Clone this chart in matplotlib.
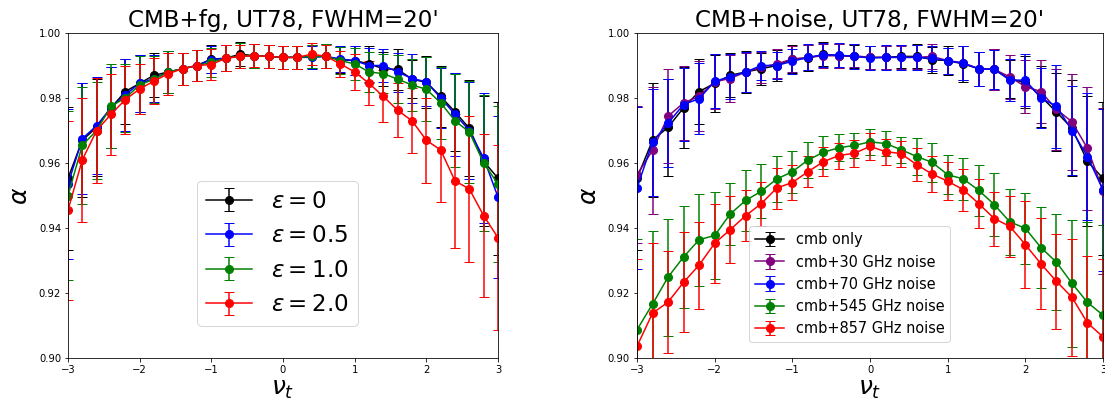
import matplotlib
matplotlib.use('Agg')
import matplotlib.pyplot as plt
import numpy as np

# nu_t grid
nu_t = np.round(np.arange(-3.0, 3.01, 0.2), 1)

# ---- left panel: CMB + foreground, different epsilon ----
eps0 = [0.9553, 0.967, 0.971, 0.977, 0.982, 0.9845, 0.987, 0.988, 0.989, 0.990, 0.992,
        0.9922, 0.9935, 0.993, 0.9928, 0.9925, 0.9925, 0.9928, 0.9928, 0.9918, 0.9915,
        0.9905, 0.989, 0.9888, 0.9858, 0.9848, 0.9805, 0.9757, 0.9707, 0.9605, 0.9553]
eps0_err = [0.022, 0.0175, 0.015, 0.0125, 0.010, 0.0088, 0.0068, 0.0065, 0.005, 0.0048, 0.0042,
            0.004, 0.0038, 0.0037, 0.0036, 0.0036, 0.0036, 0.0036, 0.0037, 0.004, 0.0045,
            0.0055, 0.0053, 0.0063, 0.0058, 0.008, 0.0093, 0.012, 0.0148, 0.020, 0.0235]

eps05 = [0.9535, 0.9675, 0.9715, 0.977, 0.981, 0.9845, 0.986, 0.988, 0.989, 0.990, 0.9918,
         0.9922, 0.993, 0.993, 0.9928, 0.9925, 0.9925, 0.9925, 0.9928, 0.992, 0.9915,
         0.990, 0.990, 0.988, 0.986, 0.985, 0.980, 0.975, 0.970, 0.9615, 0.9495]
eps05_err = [0.023, 0.017, 0.015, 0.0125, 0.011, 0.0088, 0.0072, 0.0065, 0.005, 0.0048, 0.0042,
             0.004, 0.0038, 0.0037, 0.0036, 0.0036, 0.0036, 0.0036, 0.0037, 0.004, 0.0045,
             0.0055, 0.005, 0.006, 0.0075, 0.0075, 0.0093, 0.0128, 0.015, 0.020, 0.025]

eps10 = [0.950, 0.9655, 0.970, 0.9775, 0.980, 0.984, 0.9858, 0.988, 0.989, 0.990, 0.991,
         0.9922, 0.993, 0.993, 0.9928, 0.9925, 0.9925, 0.9928, 0.9928, 0.9915, 0.9905,
         0.988, 0.9875, 0.9858, 0.984, 0.9827, 0.9785, 0.973, 0.9695, 0.960, 0.9535]
eps10_err = [0.026, 0.018, 0.015, 0.013, 0.0105, 0.0088, 0.0072, 0.0065, 0.005, 0.0048, 0.0045,
             0.004, 0.0038, 0.0037, 0.0036, 0.0036, 0.0036, 0.0036, 0.0037, 0.0042, 0.005,
             0.0063, 0.006, 0.0073, 0.008, 0.0098, 0.011, 0.0143, 0.0156, 0.021, 0.024]

eps20 = [0.9455, 0.961, 0.970, 0.975, 0.9795, 0.9828, 0.9852, 0.9875, 0.989, 0.990, 0.9903,
         0.9922, 0.9928, 0.993, 0.9928, 0.9925, 0.9925, 0.9935, 0.9928, 0.9905, 0.988,
         0.9845, 0.9805, 0.9762, 0.973, 0.967, 0.964, 0.9545, 0.952, 0.9438, 0.937]
eps20_err = [0.0275, 0.019, 0.0163, 0.0125, 0.0105, 0.0078, 0.007, 0.0065, 0.005, 0.0048, 0.0047,
             0.004, 0.0035, 0.0035, 0.0035, 0.0035, 0.0035, 0.0035, 0.0035, 0.004, 0.0055,
             0.0068, 0.008, 0.0083, 0.010, 0.013, 0.016, 0.0205, 0.0225, 0.025, 0.0285]

# ---- right panel: CMB + instrumental noise ----
cmb_only = eps0
cmb_only_err = eps0_err

n30 = [0.9564, 0.9639, 0.9744, 0.9785, 0.9805, 0.985, 0.986, 0.988, 0.9895, 0.9905, 0.992,
       0.9925, 0.993, 0.993, 0.993, 0.9925, 0.9925, 0.9925, 0.9925, 0.9928, 0.9915,
       0.9908, 0.989, 0.9888, 0.9865, 0.9835, 0.982, 0.9765, 0.9727, 0.9645, 0.9515]
n30_err = [0.021, 0.0195, 0.0145, 0.0115, 0.0108, 0.0085, 0.0073, 0.006, 0.0048, 0.0045, 0.004,
           0.0038, 0.0037, 0.0037, 0.0036, 0.0036, 0.0036, 0.0036, 0.0037, 0.0038, 0.004,
           0.0052, 0.0052, 0.0063, 0.0068, 0.0082, 0.0098, 0.0125, 0.0148, 0.019, 0.0255]

n70 = [0.9523, 0.9664, 0.9723, 0.978, 0.9798, 0.9851, 0.9866, 0.988, 0.990, 0.990, 0.9913,
       0.9925, 0.9933, 0.9932, 0.9928, 0.9923, 0.9925, 0.9925, 0.9925, 0.9922, 0.9915,
       0.9907, 0.989, 0.9888, 0.9855, 0.9855, 0.980, 0.9775, 0.970, 0.962, 0.9517]
n70_err = [0.025, 0.0165, 0.0135, 0.0113, 0.011, 0.0083, 0.007, 0.0062, 0.0045, 0.0043, 0.0038,
           0.004, 0.0037, 0.0038, 0.0038, 0.0038, 0.0038, 0.0038, 0.0038, 0.0038, 0.004,
           0.0053, 0.0052, 0.006, 0.0065, 0.008, 0.0093, 0.0128, 0.0138, 0.0195, 0.025]

n545 = [0.9087, 0.9166, 0.9249, 0.9311, 0.9364, 0.9377, 0.9443, 0.9485, 0.9513, 0.9551, 0.9573,
        0.9609, 0.9633, 0.9647, 0.9654, 0.9665, 0.966, 0.9641, 0.962, 0.9602, 0.9564,
        0.9551, 0.9516, 0.9472, 0.9419, 0.9399, 0.934, 0.9295, 0.923, 0.9171, 0.9132]
n545_err = [0.028, 0.0224, 0.018, 0.0157, 0.0142, 0.0134, 0.0094, 0.0095, 0.0083, 0.007, 0.0065,
            0.0055, 0.005, 0.0041, 0.0038, 0.004, 0.0038, 0.004, 0.0057, 0.006, 0.006,
            0.0064, 0.0078, 0.0098, 0.0101, 0.011, 0.0125, 0.0148, 0.0196, 0.0247, 0.0276]

n857 = [0.9036, 0.9138, 0.9172, 0.9233, 0.9286, 0.9353, 0.9395, 0.9438, 0.9475, 0.9523, 0.954,
        0.9573, 0.9604, 0.9623, 0.963, 0.9651, 0.9635, 0.9629, 0.9595, 0.9566, 0.9544,
        0.9518, 0.9475, 0.9429, 0.9405, 0.9349, 0.929, 0.9236, 0.9187, 0.9108, 0.9065]
n857_err = [0.027, 0.0216, 0.0156, 0.0154, 0.0134, 0.0122, 0.0103, 0.0078, 0.0068, 0.0063, 0.0055,
            0.0048, 0.0045, 0.004, 0.0042, 0.0042, 0.004, 0.004, 0.005, 0.0055, 0.0058,
            0.0065, 0.0075, 0.0083, 0.0094, 0.0135, 0.014, 0.0146, 0.018, 0.0205, 0.024]

left_series = [
    (eps0, eps0_err, 'black', r'$\epsilon = 0$'),
    (eps05, eps05_err, 'blue', r'$\epsilon = 0.5$'),
    (eps10, eps10_err, 'green', r'$\epsilon = 1.0$'),
    (eps20, eps20_err, 'red', r'$\epsilon = 2.0$'),
]
right_series = [
    (cmb_only, cmb_only_err, 'black', 'cmb only'),
    (n30, n30_err, 'purple', 'cmb+30 GHz noise'),
    (n70, n70_err, 'blue', 'cmb+70 GHz noise'),
    (n545, n545_err, 'green', 'cmb+545 GHz noise'),
    (n857, n857_err, 'red', 'cmb+857 GHz noise'),
]

W, H, DPI = 1105, 405, 72
fig = plt.figure(figsize=(W / DPI, H / DPI), dpi=DPI)
ax1 = fig.add_axes([68 / W, 47 / H, 430 / W, 325 / H])
ax2 = fig.add_axes([637 / W, 47 / H, 466 / W, 325 / H])

for ax, series, title in [(ax1, left_series, "CMB+fg, UT78, FWHM=20'"),
                          (ax2, right_series, "CMB+noise, UT78, FWHM=20'")]:
    for vals, errs, col, lab in series:
        ax.errorbar(nu_t, vals, yerr=errs, color=col, marker='o', markersize=8,
                    linewidth=1.5, capsize=5, label=lab)
    ax.set_xlim(-3, 3)
    ax.set_ylim(0.90, 1.00)
    ax.set_yticks(np.arange(0.90, 1.001, 0.02))
    ax.set_xlabel(r'$\nu_t$', fontsize=25, labelpad=2)
    ax.set_ylabel(r'$\alpha$', fontsize=25, labelpad=7)
    ax.set_title(title, fontsize=23)
    ax.tick_params(labelsize=10)

ax1.legend(fontsize=23, loc='lower left', bbox_to_anchor=(0.30, 0.10), borderaxespad=0)
ax2.legend(fontsize=14.5, loc='lower left', bbox_to_anchor=(0.241, 0.049), borderaxespad=0)

fig.savefig('out.png', dpi=DPI)
